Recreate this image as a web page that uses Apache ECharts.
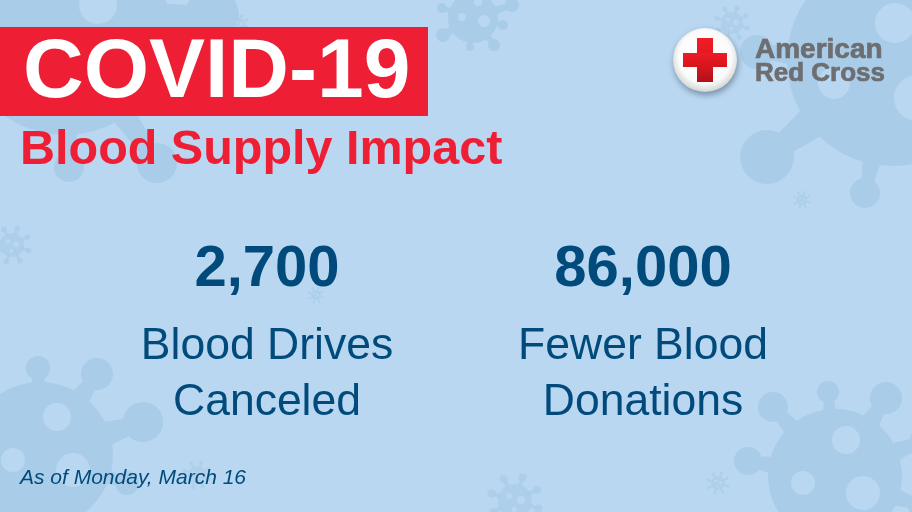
<!DOCTYPE html>
<html>
<head>
<meta charset="utf-8">
<style>
    html, body { margin: 0; padding: 0; background: #b9d7f1; }
    #chart { width: 912px; height: 512px; }
</style>
<script src="https://cdn.jsdelivr.net/npm/echarts@6/dist/echarts.min.js"></script>
</head>
<body>
<div id="chart"></div>
<script>
var headline = 'COVID-19';
var subhead = 'Blood Supply Impact';
var statValues = ['2,700', '86,000'];
var statLabels = [['Blood Drives', 'Canceled'], ['Fewer Blood', 'Donations']];
var noteText = 'As of Monday, March 16';
var logoLines = ['American', 'Red Cross'];

var BG = '#b9d7f1';
var VIRUS = '#a9cce8';
var RED = '#ee1f35';
var BLUE = '#004b7c';
var GRAY = '#6d6e71';
var FONT = '"Liberation Sans", Arial, sans-serif';

var graphics = [];

function add(el) {
    el.silent = true;
    graphics.push(el);
}

function circle(cx, cy, r, fill, opacity) {
    add({ type: 'circle', shape: { cx: cx, cy: cy, r: r }, style: { fill: fill, opacity: opacity === undefined ? 1 : opacity } });
}

function text(str, x, y, size, weight, color, align, italic, strokeWidth) {
    var style = {
        text: str,
        fill: color,
        font: (italic ? 'italic ' : '') + weight + ' ' + size + 'px ' + FONT,
        textAlign: align,
        textVerticalAlign: 'middle'
    };
    if (strokeWidth) {
        style.stroke = color;
        style.lineWidth = strokeWidth;
    }
    add({ type: 'text', x: x, y: y, style: style });
}

// body + tapered stalks + knobs, holes punched with the background colour
function virus(cx, cy, r, knobs, holes, opacity) {
    knobs.forEach(function (k) {
        var dx = k[0] - cx;
        var dy = k[1] - cy;
        var len = Math.sqrt(dx * dx + dy * dy);
        var nx = -dy / len;
        var ny = dx / len;
        var w1 = k[2] * 0.32;
        var w2 = k[2] * 0.6;
        var bx = cx + dx / len * (r - 2);
        var by = cy + dy / len * (r - 2);
        add({
            type: 'polygon',
            shape: {
                points: [
                    [k[0] + nx * w1, k[1] + ny * w1],
                    [k[0] - nx * w1, k[1] - ny * w1],
                    [bx - nx * w2, by - ny * w2],
                    [bx + nx * w2, by + ny * w2]
                ]
            },
            style: { fill: VIRUS, opacity: opacity || 1 }
        });
        circle(k[0], k[1], k[2], VIRUS, opacity);
    });
    circle(cx, cy, r, VIRUS, opacity);
    holes.forEach(function (h) {
        circle(h[0], h[1], h[2], BG);
    });
}

// tiny background virus with evenly spread spikes
function speck(cx, cy, r, opacity) {
    var knobs = [];
    for (var i = 0; i < 8; i++) {
        var a = (i + 0.4) * Math.PI / 4;
        knobs.push([cx + Math.cos(a) * r * 1.45, cy + Math.sin(a) * r * 1.45, r * 0.24]);
    }
    virus(cx, cy, r, knobs, [
        [cx - r * 0.35, cy - r * 0.3, r * 0.18],
        [cx + r * 0.35, cy - r * 0.05, r * 0.24],
        [cx - r * 0.05, cy + r * 0.5, r * 0.16]
    ], opacity);
}

// big viruses
virus(65, 30, 105, [[212, 15, 27], [69, 167, 15], [157, 163, 20]], [[98, 5, 19]]);
virus(893, 60, 106, [[767, 157, 27], [865, 193, 15], [757, 52, 17]], [[895, 23, 20], [834, 83, 16], [917, 98, 23]]);
virus(40, 455, 73, [[38, 368, 12], [97, 374, 16], [143, 422, 20], [127, 483, 12]], [[57, 417, 14], [13, 460, 12], [73, 470, 17]]);
virus(835, 476, 67, [[773, 407, 15], [828, 392, 11], [886, 398, 16], [748, 461, 14], [925, 440, 15], [922, 506, 14]], [[846, 440, 14], [803, 483, 12], [863, 493, 17]]);

// small viruses
virus(473, 18, 25, [[442, 8, 5], [443, 35, 7], [470, 47, 4], [494, 45, 6], [503, 25, 5], [512, 5, 7]], [[462, 17, 4], [484, 21, 6], [478, 2, 4]]);
speck(732, 23, 11, 0.6);
speck(802, 200, 5.5, 0.65);
speck(12, 245, 12, 0.75);
speck(316, 295, 5, 0.6);
speck(197, 475, 9, 0.55);
speck(718, 483, 7, 0.65);
speck(515, 501, 17, 0.75);
speck(239, 24, 6, 0.7);

// title block
add({ type: 'rect', shape: { x: 0, y: 27, width: 428, height: 89 }, style: { fill: RED } });
text(headline, 23, 74, 84, 'bold', '#ffffff', 'left');
text(subhead, 20, 151, 48.5, 'bold', RED, 'left');

// logo
add({
    type: 'circle',
    shape: { cx: 705, cy: 60, r: 32 },
    style: {
        fill: {
            type: 'radial', x: 0.5, y: 0.45, r: 0.55,
            colorStops: [
                { offset: 0, color: '#ffffff' },
                { offset: 0.75, color: '#fbfbfb' },
                { offset: 1, color: '#d2d3d4' }
            ]
        },
        shadowBlur: 6,
        shadowOffsetX: 1,
        shadowOffsetY: 3,
        shadowColor: 'rgba(60,80,100,0.55)'
    }
});
var crossFill = {
    type: 'linear', x: 0, y: 0, x2: 0, y2: 1,
    colorStops: [{ offset: 0, color: '#ee1c25' }, { offset: 1, color: '#d5141d' }]
};
add({ type: 'rect', shape: { x: 697, y: 38, width: 16, height: 44 }, style: {
    fill: {
        type: 'linear', x: 0, y: 0, x2: 0, y2: 1,
        colorStops: [{ offset: 0, color: '#f01c26' }, { offset: 0.6, color: '#dc1720' }, { offset: 1, color: '#b0101a' }]
    }
} });
add({ type: 'rect', shape: { x: 683, y: 53, width: 44, height: 14 }, style: { fill: crossFill } });
text(logoLines[0], 755, 50, 28, 'bold', GRAY, 'left', false, 0.7);
text(logoLines[1], 755, 74, 26, 'bold', GRAY, 'left', false, 0.7);

// stats
var statCenters = [267, 643];
statValues.forEach(function (value, i) {
    text(value, statCenters[i], 270, 58, 'bold', BLUE, 'center');
    text(statLabels[i][0], statCenters[i], 347, 44.5, 'normal', BLUE, 'center');
    text(statLabels[i][1], statCenters[i], 403, 44.5, 'normal', BLUE, 'center');
});

text(noteText, 20, 478, 21, 'normal', BLUE, 'left', true);

var chart = echarts.init(document.getElementById('chart'));
chart.setOption({
    backgroundColor: BG,
    animation: false,
    graphic: { elements: graphics }
});
</script>
</body>
</html>
